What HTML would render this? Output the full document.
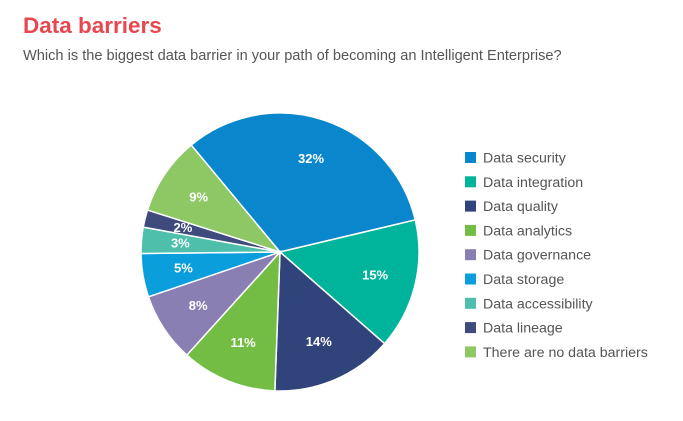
<!DOCTYPE html>
<html><head><meta charset="utf-8"><style>
body{margin:0;width:683px;height:421px;background:#fff;font-family:"Liberation Sans",sans-serif;overflow:hidden;position:relative}
#title{position:absolute;left:23px;top:13px;font-size:22.5px;font-weight:bold;color:#e8474f;margin:0}
#sub{position:absolute;left:23px;top:48px;font-size:14.6px;color:#555}
svg{position:absolute;left:0;top:0}
</style></head><body>
<h1 id="title">Data barriers</h1>
<div id="sub">Which is the biggest data barrier in your path of becoming an Intelligent Enterprise?</div>
<svg id="chart" width="683" height="421"></svg>
<script>
const categories=["Data security","Data integration","Data quality","Data analytics","Data governance","Data storage","Data accessibility","Data lineage","There are no data barriers"];
const values=[32,15,14,11,8,5,3,2,9];
const colors=["#0a86cc","#00b39b","#30437a","#74bd44","#8a7fb3","#0a9edc","#4dbfaa","#3e4b7c","#8ec865"];
const NS="http://www.w3.org/2000/svg";
const svg=document.getElementById('chart');
const cx=280,cy=252,r=139,startDeg=-39.7;
const total=values.reduce((a,b)=>a+b,0);
function pt(deg,rad){const a=deg*Math.PI/180;return [cx+rad*Math.sin(a),cy-rad*Math.cos(a)];}
let acc=startDeg;
values.forEach((v,i)=>{
  const span=v/total*360,a0=acc,a1=acc+span;acc=a1;
  const p0=pt(a0,r),p1=pt(a1,r);
  const path=document.createElementNS(NS,'path');
  path.setAttribute('d',`M${cx},${cy}L${p0[0]},${p0[1]}A${r},${r} 0 ${span>180?1:0} 1 ${p1[0]},${p1[1]}Z`);
  path.setAttribute('fill',colors[i]);path.setAttribute('stroke','#fff');path.setAttribute('stroke-width','1.5');
  
  
  svg.appendChild(path);
  const lp=pt((a0+a1)/2,v<4?100:98);
  const t=document.createElementNS(NS,'text');
  t.setAttribute('x',lp[0]);t.setAttribute('y',lp[1]+4);t.setAttribute('text-anchor','middle');
  t.setAttribute('fill','#fff');t.setAttribute('font-size','13');t.setAttribute('font-weight','bold');
  t.setAttribute('font-family','Liberation Sans, sans-serif');
  t.textContent=v+'%';
  
  
  svg.appendChild(t);
});
categories.forEach((c,i)=>{
  const y=152+i*24.3;
  const g=document.createElementNS(NS,'g');
  
  
  const rc=document.createElementNS(NS,'rect');
  rc.setAttribute('x',465);rc.setAttribute('y',y);rc.setAttribute('width',11);rc.setAttribute('height',11);rc.setAttribute('fill',colors[i]);
  const t=document.createElementNS(NS,'text');
  t.setAttribute('x',483);t.setAttribute('y',y+10.5);t.setAttribute('font-size','14.2');t.setAttribute('fill','#555');
  t.setAttribute('font-family','Liberation Sans, sans-serif');
  t.textContent=c;
  g.appendChild(rc);g.appendChild(t);svg.appendChild(g);
});
</script>
</body></html>
